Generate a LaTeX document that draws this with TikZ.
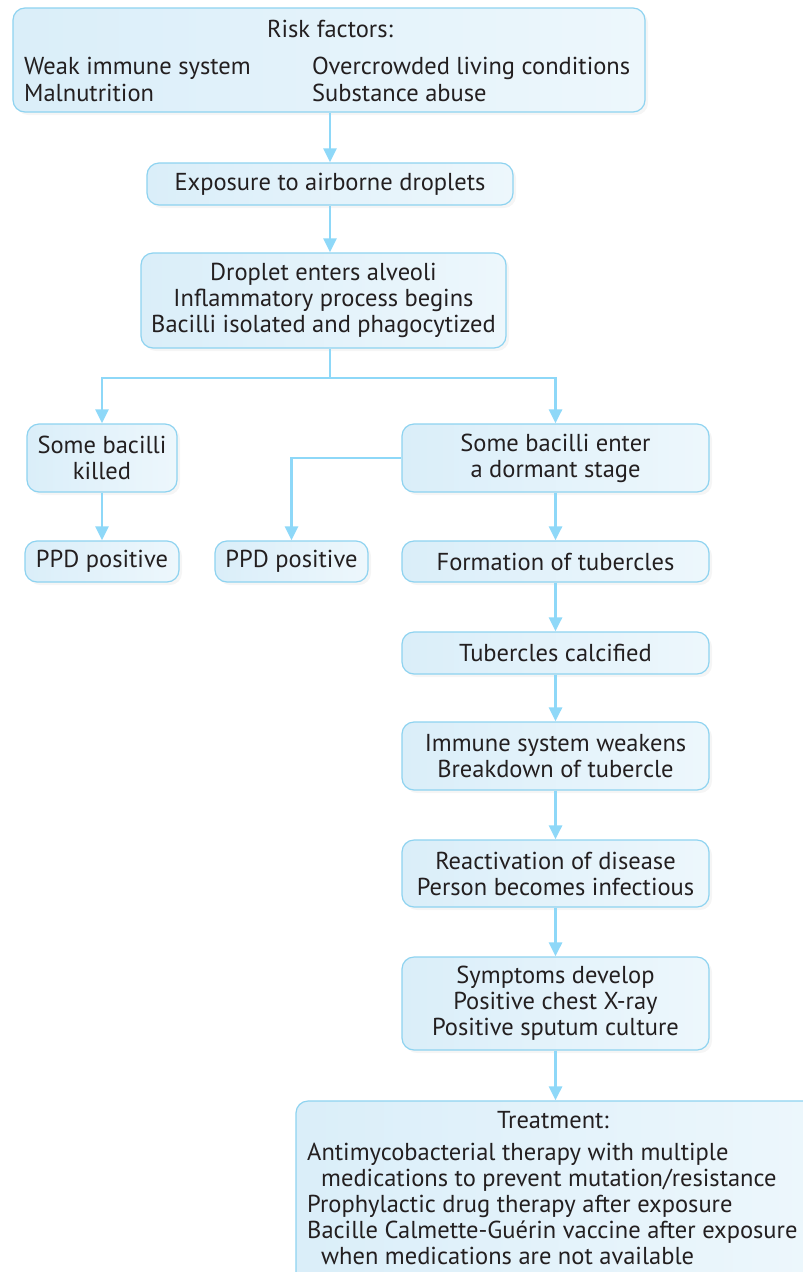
\documentclass[tikz,border=0pt]{standalone}
\usepackage{fontspec}
\setmainfont{PT Sans}
\usepackage{xcolor}
\usetikzlibrary{arrows.meta, positioning, shadows}

\definecolor{boxline}{HTML}{8ED3F0}
\definecolor{boxleft}{HTML}{DAEEF9}
\definecolor{boxright}{HTML}{EDF7FC}
\definecolor{arrowblue}{HTML}{8ED8F8}
\definecolor{inktext}{HTML}{231F20}

\tikzset{
  flowbox/.style={draw=boxline, line width=1.2pt, rounded corners=12pt,
    left color=boxleft, right color=boxright, align=center, inner sep=0pt,
    text=inktext, drop shadow={shadow xshift=3pt, shadow yshift=-3pt, fill=black!8}},
  flowtext/.style={text=inktext, inner sep=0pt},
  flowarrow/.style={draw=arrowblue, line width=2.8pt,
    -{Triangle[length=14pt, width=13pt]}},
  flowline/.style={draw=arrowblue, line width=2.8pt}
}

\begin{document}
\begin{tikzpicture}[x=1pt, y=-1pt,
  every node/.style={font=\fontsize{24.5}{26}\selectfont}]
\useasboundingbox (0,0) rectangle (803,1272);
\clip (0,0) rectangle (803,1272);

% Risk factors
\node[flowbox, minimum width=632pt, minimum height=104pt] (risk) at (329,60) {};
\node[flowtext, anchor=base] (risktitle) at (330,37) {Risk factors:};
\node[flowtext, anchor=base west, align=left] (riskleft) at (24,101) {Weak immune system\\[1pt]Malnutrition};
\node[flowtext, anchor=base west, align=left] (riskright) at (312,101) {Overcrowded living conditions\\[1pt]Substance abuse};

% Main column
\node[flowbox, minimum width=366pt, minimum height=42pt] (expo) at (330,184) {Exposure to airborne droplets};
\node[flowbox, minimum width=365pt, minimum height=95pt] (drop) at (323.5,300.5) {Droplet enters alveoli\\Inflammatory process begins\\Bacilli isolated and phagocytized};

% Left branch
\node[flowbox, minimum width=150pt, minimum height=68pt] (killed) at (102,458) {Some bacilli\\killed};
\node[flowbox, minimum width=154pt, minimum height=41pt] (ppdleft) at (102,561.5) {PPD positive};
\node[flowbox, minimum width=153pt, minimum height=41pt] (ppdmid) at (291.5,561.5) {PPD positive};

% Right branch
\node[flowbox, minimum width=307pt, minimum height=68pt] (dormant) at (555.5,458) {Some bacilli enter\\a dormant stage};
\node[flowbox, minimum width=307pt, minimum height=41pt] (tubercles) at (555.5,561.5) {Formation of tubercles};
\node[flowbox, minimum width=307pt, minimum height=42pt] (calcified) at (555.5,653) {Tubercles calcified};
\node[flowbox, minimum width=307pt, minimum height=68pt] (weakens) at (555.5,756) {Immune system weakens\\Breakdown of tubercle};
\node[flowbox, minimum width=307pt, minimum height=67pt] (reactivate) at (555.5,873.5) {Reactivation of disease\\Person becomes infectious};
\node[flowbox, minimum width=307pt, minimum height=93pt] (symptoms) at (555.5,1003.5) {Symptoms develop\\Positive chest X-ray\\Positive sputum culture};

% Treatment
\node[flowbox, minimum width=524pt, minimum height=196pt] (treat) at (558,1199) {};
\node[flowtext, anchor=base] (treattitle) at (553,1128) {Treatment:};
\node[flowtext, anchor=base west, align=left] (treatlist) at (307,1264) {Antimycobacterial therapy with multiple\\
  \hspace*{14pt}medications to prevent mutation/resistance\\
  Prophylactic drug therapy after exposure\\
  Bacille Calmette-Guérin vaccine after exposure\\
  \hspace*{14pt}when medications are not available};

% Connectors
\coordinate (split) at (330,378);
\draw[flowarrow] (risk.south -| expo.north) -- (expo.north);
\draw[flowarrow] (expo.south) -- (expo.south |- drop.north);
\draw[flowline] (split |- drop.south) -- (split);
\draw[flowarrow] (split) -| (killed.north);
\draw[flowarrow] (split) -| (dormant.north);
\draw[flowarrow] (killed.south) -- (ppdleft.north);
\draw[flowarrow] (dormant.west) -| (ppdmid.north);
\draw[flowarrow] (dormant.south) -- (tubercles.north);
\draw[flowarrow] (tubercles.south) -- (calcified.north);
\draw[flowarrow] (calcified.south) -- (weakens.north);
\draw[flowarrow] (weakens.south) -- (reactivate.north);
\draw[flowarrow] (reactivate.south) -- (symptoms.north);
\draw[flowarrow] (symptoms.south) -- (symptoms.south |- treat.north);
\end{tikzpicture}
\end{document}
